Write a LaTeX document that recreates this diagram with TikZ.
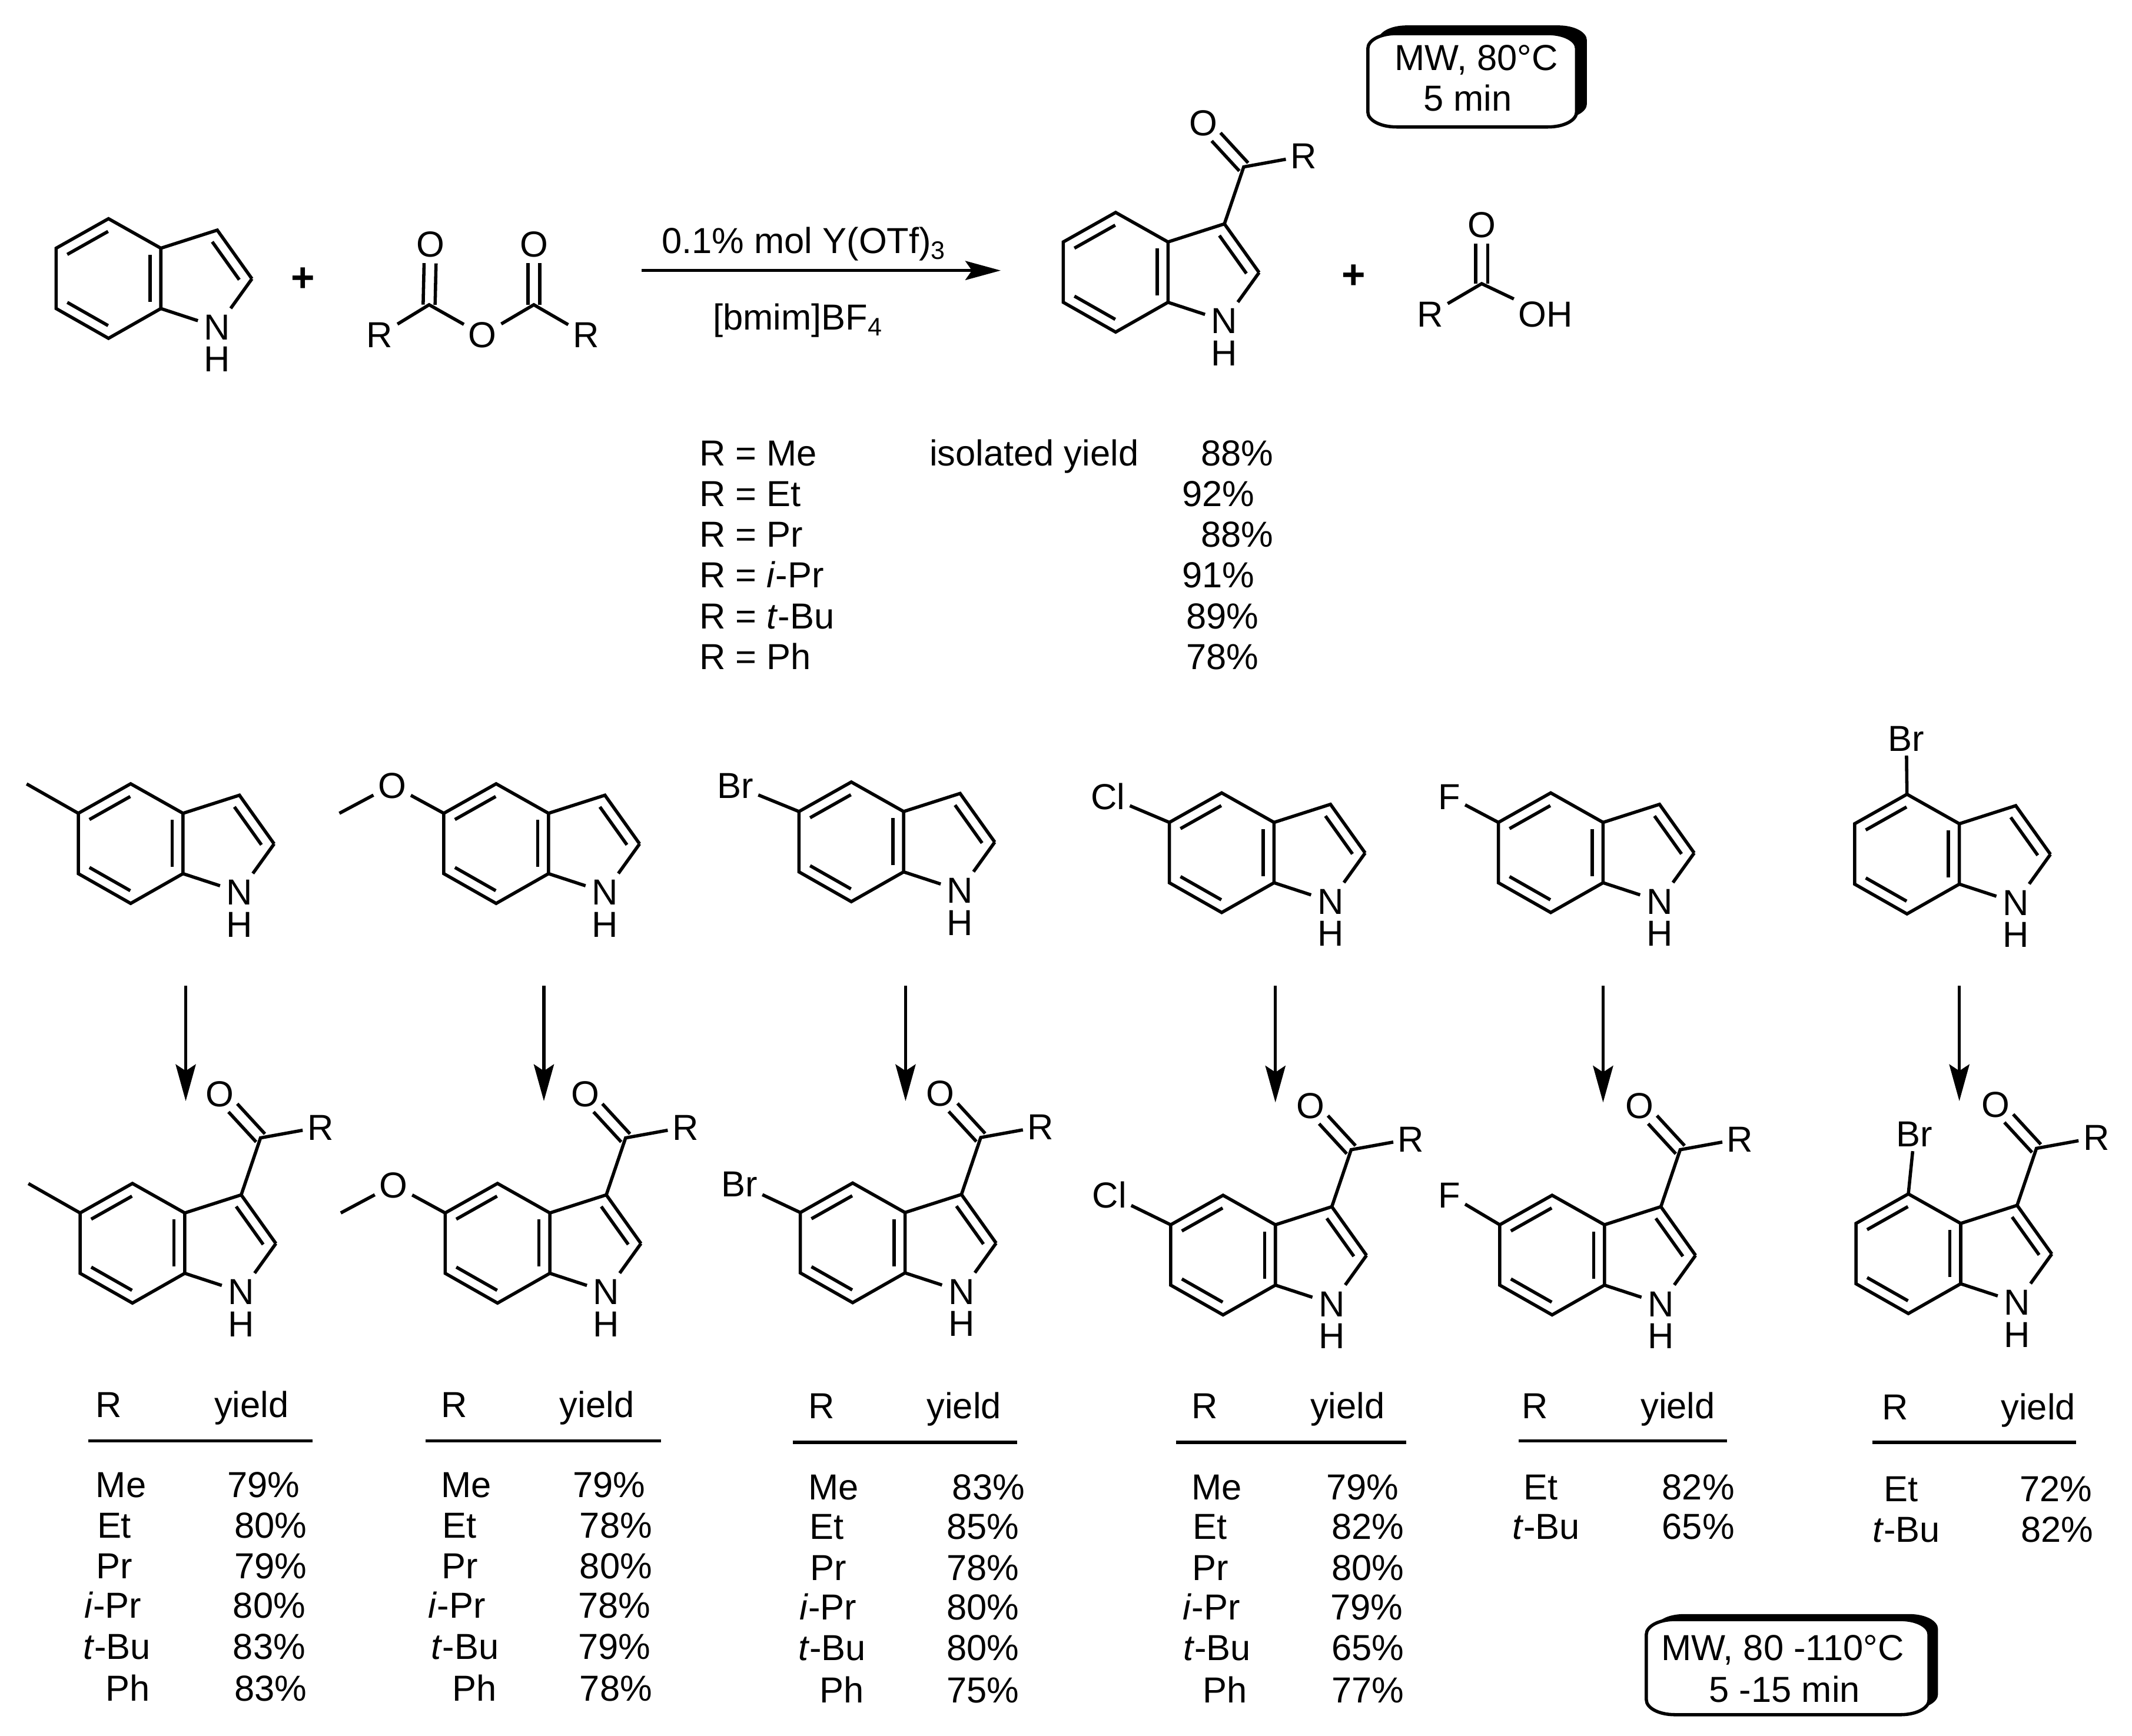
\documentclass[tikz,border=0pt]{standalone}
\usepackage{fontspec}
\setmainfont{Liberation Sans}
\usetikzlibrary{calc,arrows.meta}
\tikzset{
	bond/.style={line width=1.2pt},
	lab/.style={font=\fontsize{13.3}{15}\selectfont,inner sep=0pt,text height=9.45pt,text depth=0pt},
	atom/.style={lab,inner sep=1.5pt},
	plussign/.style={lab,font=\fontsize{15}{15}\selectfont\bfseries},
	rxn/.style={line width=1.2pt,-{Stealth[length=13pt,width=7pt,inset=2.4pt]}},
	dnarrow/.style={line width=1.1pt,-{Stealth[length=13.5pt,width=7.4pt,inset=2.4pt]}}
}
% inner line of a ring double bond
\newcommand{\dbond}[2]{\draw[bond] ($(#1)!.11!(#2)!4pt!90:(#2)$) -- ($(#2)!.11!(#1)!4pt!-90:(#1)$);}
% C=O with both lines beside the axis
\newcommand{\cobond}[2]{
	\draw[bond,shorten >=7pt] ($(#1)!2.2pt!90:(#2)$) -- ($(#2)!2.2pt!-90:(#1)$);
	\draw[bond,shorten >=7pt] ($(#1)!2.2pt!-90:(#2)$) -- ($(#2)!2.2pt!90:(#1)$);
}
\newcommand{\indole}[3]{
	\begin{scope}[shift={(#2,#3)}]
		\coordinate (#1c3a) at (0,0);
		\coordinate (#1c4) at (-38.5,-21.7);
		\coordinate (#1c5) at (-77,0);
		\coordinate (#1c6) at (-77,44.4);
		\coordinate (#1c7) at (-38.5,66.3);
		\coordinate (#1c7a) at (0,44.4);
		\coordinate (#1c3) at (41.5,-13.3);
		\coordinate (#1c2) at (67,22.5);
		\node[lab,inner sep=0.8pt] (#1n) at (41.5,58) {N};
		\node[lab] (#1h) at (41.5,81.5) {H};
	\end{scope}
	\draw[bond,shorten >=1.4pt] (#1c7a) -- (#1n);
	\draw[bond] (#1c4) -- (#1c5) -- (#1c6) -- (#1c7) -- (#1c7a) -- (#1c3a) -- cycle;
	\draw[bond] (#1c3a) -- (#1c3) -- (#1c2);
	\draw[bond,shorten >=1.4pt] (#1c2) -- (#1n);
	\dbond{#1c4}{#1c5}
	\dbond{#1c6}{#1c7}
	\dbond{#1c7a}{#1c3a}
	\dbond{#1c2}{#1c3}
}
% 3-acyl group on an indole
\newcommand{\acyl}[1]{
	\coordinate (#1co) at ($(#1c3)+(14.2,-41.9)$);
	\node[atom] (#1o) at ($(#1co)+(-29.8,-32.4)$) {O};
	\node[atom] (#1r) at ($(#1co)+(44,-8)$) {R};
	\draw[bond] (#1c3) -- (#1co) -- (#1r);
	\cobond{#1co}{#1o}
}
% outline of a box with flat corners
\newcommand{\flatbox}[4]{(#1,#2) ++(0,11) .. controls +(0,-6) and +(-12,0) .. ++(21,-11) -- ($(#3,#2)+(-21,0)$) .. controls +(12,0) and +(0,-6) .. ++(21,11) -- ($(#3,#4)+(0,-11)$) .. controls +(0,6) and +(12,0) .. ++(-21,11) -- ($(#1,#4)+(21,0)$) .. controls +(-12,0) and +(0,6) .. ++(-21,-11) -- cycle}
% box with its shadow at the top and the right
\newcommand{\mwbox}[7]{
	\begin{scope}[shift={(#6,#7)}]
		\fill \flatbox{#2}{#3}{#4}{#5};
	\end{scope}
	\draw[bond,fill=white] \flatbox{#2}{#3}{#4}{#5};
	\coordinate (#1) at (#2,#3);
}
% table under a product
\newcommand{\ytable}[8]{
	\node[lab] (#1R) at (#2,#4) {R};
	\node[lab] (#1Y) at (#3,#4) {yield};
	\coordinate (#1a) at (#5,#7);
	\coordinate (#1b) at (#6,#7);
	\draw[bond] (#1a) -- (#1b);
	\foreach \nm/\lx/\pc/\vx/\yy [count=\i] in {#8}{
		\node[lab] (#1n\i) at (\lx,\yy) {\nm};
		\node[lab] (#1v\i) at (\vx,\yy) {\pc};
	}
}

\begin{document}
\begin{tikzpicture}[x=0.5pt,y=-0.5pt]
	\useasboundingbox (0,0) rectangle (1568,1277);
	% Reaction
	\indole{si}{118.3}{182.6}
	\node[plussign] (plusa) at (222.7,204.9) {+};
	\coordinate (ca) at (315.6,224.2);
	\coordinate (cb) at (392.6,224.2);
	\node[atom] (oa) at (316.6,179.7) {O};
	\node[atom] (ob) at (392.6,179.7) {O};
	\node[atom] (om) at (354.9,246.4) {O};
	\node[atom] (ra) at (279.3,246.4) {R};
	\node[atom] (rb) at (430.9,246.4) {R};
	\draw[bond] (ra) -- (ca) -- (om) -- (cb) -- (rb);
	\cobond{ca}{oa}
	\cobond{cb}{ob}
	\coordinate (arra) at (472,199);
	\coordinate (arrb) at (736,199);
	\draw[rxn] (arra) -- (arrb);
	\node[lab] (cat) at (591.5,176.8) {0.1\% mol Y(OTf)\textsubscript{3}};
	\node[lab] (solv) at (587,233) {[bmim]BF\textsubscript{4}};
	\indole{sp}{859}{178}
	\acyl{sp}
	\node[plussign] (plusb) at (995.5,203) {+};
	\coordinate (cc) at (1089.7,208.7);
	\node[atom] (oc) at (1089.7,165.2) {O};
	\node[atom] (rc) at (1051.7,231) {R};
	\node[atom] (oh) at (1136.7,231) {OH};
	\draw[bond] (rc) -- (cc) -- (oh);
	\cobond{cc}{oc}
	\mwbox{boxa}{1006}{24.7}{1159.5}{93.4}{7.6}{-6}
	\node[lab] (boxat) at (1085.7,42.5) {MW, 80°C};
	\node[lab] (boxab) at (1079.4,72) {5 min};
	% Yields with R
	\node[lab] (isol) at (760.5,333) {isolated yield};
	\foreach \nm/\pc/\vx/\yy [count=\i] in {Me/88\%/910/333,Et/92\%/896/363,Pr/88\%/910/393,\textit{i}-Pr/91\%/896/423,\textit{t}-Bu/89\%/899/453,Ph/78\%/899/483}{
		\node[lab,anchor=west] (list\i) at (514,\yy) {R = \nm};
		\node[lab] (val\i) at (\vx,\yy) {\pc};
	}
	% Substrates
	\indole{ra}{134.6}{598.3}
	\indole{rb}{403.4}{598.3}
	\indole{rc}{664.6}{597}
	\indole{rd}{937}{605}
	\indole{re}{1179}{605}
	\indole{rf}{1441}{606}
	\coordinate (rame) at ($(rac5)+(-38,-21.6)$);
	\draw[bond] (rac5) -- (rame);
	\node[atom] (rbo) at ($(rbc5)+(-38,-20.7)$) {O};
	\coordinate (rbme) at ($(rbc5)+(-76.8,0)$);
	\draw[bond] (rbc5) -- (rbo) -- (rbme);
	\node[atom] (rcx) at (541,578) {Br};
	\draw[bond] (rcc5) -- (rcx);
	\node[atom] (rdx) at (815,586) {Cl};
	\draw[bond] (rdc5) -- (rdx);
	\node[atom] (rex) at (1066,586) {F};
	\draw[bond] (rec5) -- (rex);
	\node[atom] (rfx) at (1402,543) {Br};
	\draw[bond] (rfc4) -- (rfx);
	% Products
	\indole{pa}{135.9}{892.3}
	\indole{pb}{404.4}{892.3}
	\indole{pc}{665.6}{892}
	\indole{pd}{938}{901}
	\indole{pe}{1180}{901}
	\indole{pf}{1442}{900}
	\foreach \m in {pa,pb,pc,pd,pe,pf}{\acyl{\m}}
	\coordinate (pame) at ($(pac5)+(-38,-21.6)$);
	\draw[bond] (pac5) -- (pame);
	\node[atom] (pbo) at ($(pbc5)+(-38,-20.7)$) {O};
	\coordinate (pbme) at ($(pbc5)+(-76.8,0)$);
	\draw[bond] (pbc5) -- (pbo) -- (pbme);
	\node[atom] (pcx) at (544,871) {Br};
	\draw[bond] (pcc5) -- (pcx);
	\node[atom] (pdx) at (816,879) {Cl};
	\draw[bond] (pdc5) -- (pdx);
	\node[atom] (pex) at (1066,879) {F};
	\draw[bond] (pec5) -- (pex);
	\node[atom] (pfx) at (1408,834) {Br};
	\draw[bond] (pfc4) -- (pfx);
	% Arrows
	\foreach \a/\xa/\ya/\yb in {a/136.6/725.3/810,b/400/725.3/810,c/666/725.3/810,d/938/725.3/811,e/1179/725.3/811,f/1441/725.3/810}{
		\coordinate (da\a) at (\xa,\ya);
		\coordinate (db\a) at (\xa,\yb);
		\draw[dnarrow] (da\a) -- (db\a);
	}
	% Tables
	\ytable{ta}{80}{185}{1033}{65}{230}{1060}{Me/89/79\%/194/1092,Et/84/80\%/199/1122,Pr/84/79\%/199/1152,\textit{i}-Pr/83/80\%/198/1181,\textit{t}-Bu/86/83\%/198/1211,Ph/94/83\%/199/1242}
	\ytable{tb}{334}{439}{1033}{313}{486}{1060}{Me/343/79\%/448/1092,Et/338/78\%/453/1122,Pr/338/80\%/453/1152,\textit{i}-Pr/336/78\%/452/1181,\textit{t}-Bu/342/79\%/452/1211,Ph/349/78\%/453/1242}
	\ytable{tc}{604}{709}{1034}{583}{748}{1061}{Me/613/83\%/727/1094,Et/608/85\%/723/1123,Pr/609/78\%/723/1153,\textit{i}-Pr/609/80\%/723/1182,\textit{t}-Bu/612/80\%/723/1212,Ph/619/75\%/723/1243}
	\ytable{td}{886}{991}{1034}{865}{1034}{1061}{Me/895/79\%/1002/1094,Et/890/82\%/1006/1123,Pr/890/80\%/1006/1153,\textit{i}-Pr/891/79\%/1005/1182,\textit{t}-Bu/895/65\%/1006/1212,Ph/901/77\%/1006/1243}
	\ytable{te}{1129}{1234}{1034}{1117}{1270}{1060}{Et/1133/82\%/1249/1094,\textit{t}-Bu/1137/65\%/1249/1123}
	\ytable{tf}{1394}{1499}{1035}{1377}{1527}{1061}{Et/1398/72\%/1512/1095,\textit{t}-Bu/1402/82\%/1513/1125}
	\mwbox{boxb}{1210.8}{1191.4}{1418.7}{1261.4}{6.6}{-4}
	\node[lab] (boxbt) at (1311,1212) {MW, 80 -110°C};
	\node[lab] (boxbb) at (1312.5,1242.6) {5 -15 min};
\end{tikzpicture}
\end{document}
